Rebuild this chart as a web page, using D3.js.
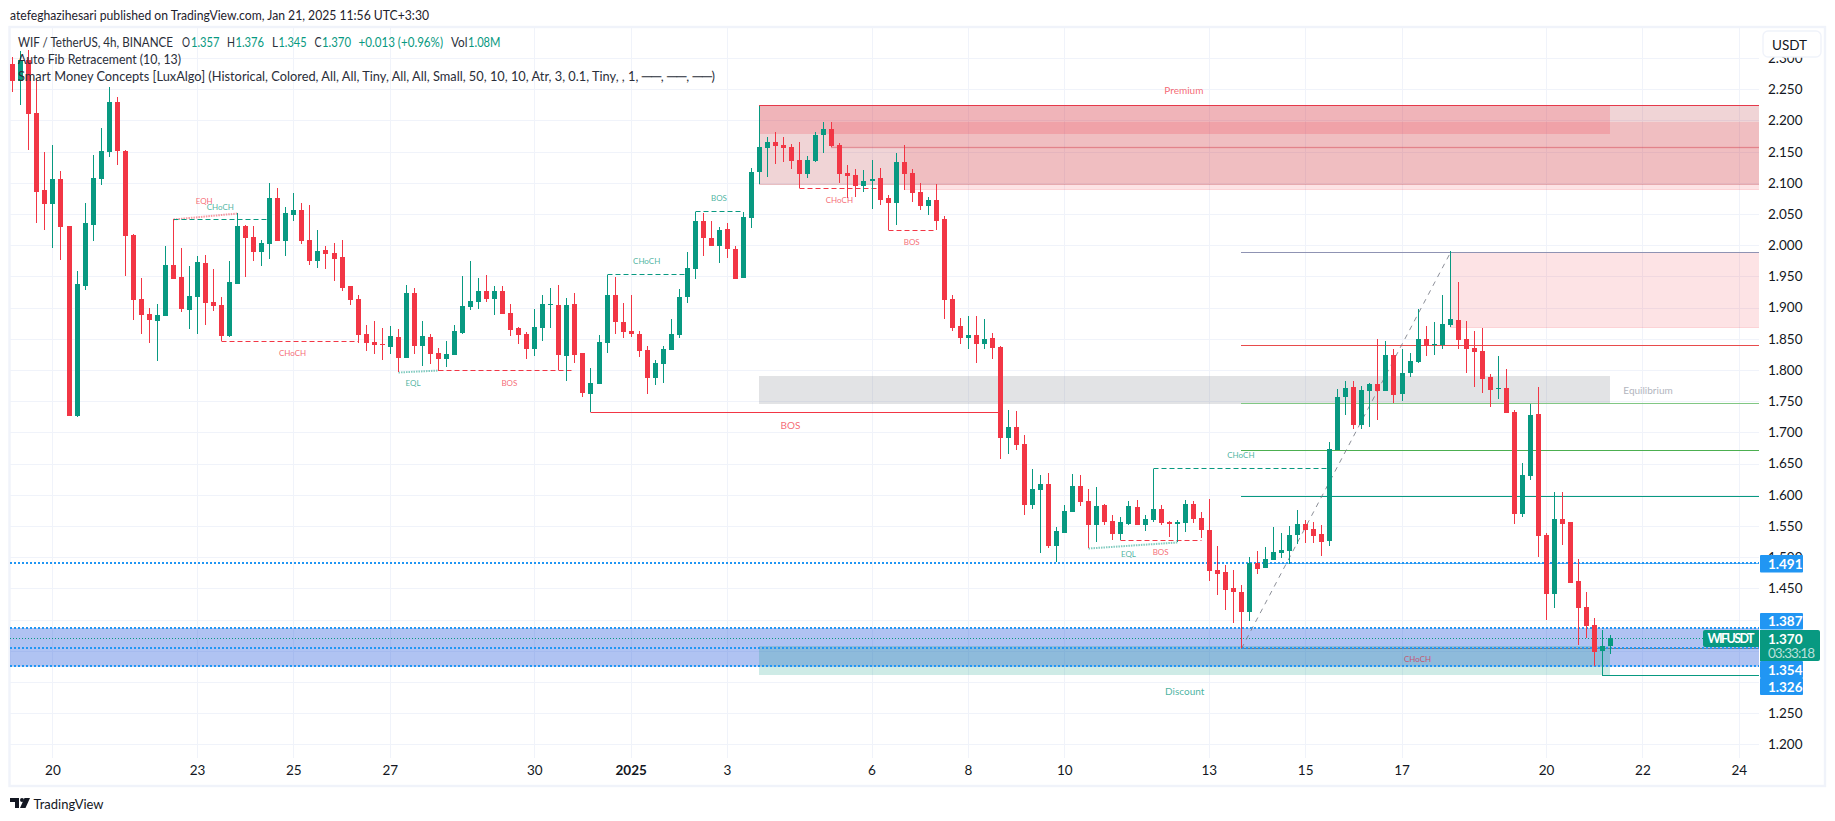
<!DOCTYPE html>
<html><head><meta charset="utf-8">
<script src="https://cdn.jsdelivr.net/npm/d3@7/dist/d3.min.js"></script>
<style>html,body{margin:0;background:#fff;overflow:hidden}svg{display:block}text{font-family:Lato,"Noto Sans",sans-serif}</style>
</head><body><div id="c"></div>
<script>
const opens=[2.291,2.264,2.297,2.212,2.089,2.066,2.106,2.031,1.726,1.935,2.033,2.106,2.150,2.230,2.151,2.016,1.914,1.890,1.879,1.887,
1.968,1.949,1.896,1.917,1.972,1.909,1.904,1.855,1.938,2.031,2.013,1.989,2.002,2.076,2.007,2.049,2.057,2.008,1.975,1.992,
1.988,1.981,1.935,1.914,1.858,1.845,1.842,1.837,1.853,1.819,1.923,1.839,1.853,1.827,1.818,1.824,1.859,1.901,1.909,1.927,
1.914,1.927,1.891,1.867,1.858,1.834,1.867,1.905,1.904,1.822,1.906,1.827,1.762,1.778,1.843,1.920,1.877,1.863,1.858,1.832,
1.787,1.810,1.832,1.856,1.917,1.962,2.039,2.012,1.999,2.026,1.994,1.948,2.044,2.118,2.156,2.166,2.161,2.158,2.137,2.114,
2.135,2.177,2.186,2.161,2.116,2.113,2.095,2.103,2.108,2.076,2.068,2.133,2.116,2.085,2.063,2.073,2.042,1.914,1.871,1.851,
1.856,1.842,1.851,1.837,1.691,1.709,1.681,1.584,1.608,1.617,1.518,1.539,1.572,1.614,1.590,1.552,1.584,1.558,1.537,1.553,
1.580,1.552,1.560,1.577,1.556,1.553,1.555,1.585,1.563,1.544,1.479,1.476,1.451,1.444,1.412,1.491,1.483,1.495,1.507,1.510,
1.536,1.553,1.545,1.537,1.526,1.672,1.757,1.773,1.712,1.766,1.778,1.766,1.824,1.762,1.795,1.813,1.850,1.840,1.840,1.872,
1.880,1.850,1.835,1.831,1.789,1.770,1.771,1.733,1.569,1.630,1.730,1.536,1.441,1.561,1.556,1.462,1.420,1.391,1.350,1.357];
const highs=[2.302,2.312,2.313,2.268,2.150,2.161,2.119,2.031,1.959,2.068,2.145,2.188,2.254,2.238,2.153,2.018,1.948,1.899,1.906,1.999,
2.042,1.996,1.967,1.983,1.984,1.962,1.917,1.975,2.051,2.033,2.031,2.008,2.100,2.092,2.061,2.084,2.068,2.065,2.025,1.999,
2.004,2.008,1.935,1.920,1.872,1.879,1.867,1.871,1.866,1.936,1.932,1.879,1.858,1.835,1.847,1.872,1.951,1.975,1.948,1.952,
1.935,1.935,1.906,1.869,1.861,1.898,1.920,1.932,1.936,1.915,1.923,1.827,1.803,1.856,1.953,1.949,1.907,1.920,1.863,1.839,
1.816,1.839,1.882,1.930,1.989,2.054,2.052,2.039,2.029,2.036,1.999,2.054,2.124,2.224,2.174,2.182,2.174,2.162,2.166,2.143,
2.182,2.198,2.198,2.164,2.129,2.122,2.121,2.137,2.124,2.081,2.148,2.161,2.122,2.100,2.077,2.098,2.047,1.920,1.883,1.887,
1.887,1.882,1.859,1.839,1.736,1.734,1.696,1.641,1.632,1.635,1.548,1.584,1.633,1.632,1.609,1.612,1.585,1.568,1.564,1.590,
1.592,1.568,1.642,1.584,1.558,1.560,1.592,1.590,1.572,1.593,1.518,1.487,1.479,1.455,1.500,1.510,1.516,1.548,1.539,1.550,
1.576,1.560,1.556,1.552,1.685,1.770,1.782,1.782,1.774,1.779,1.850,1.847,1.834,1.834,1.827,1.898,1.871,1.877,1.920,1.990,
1.941,1.879,1.863,1.867,1.794,1.822,1.802,1.736,1.651,1.746,1.773,1.539,1.604,1.604,1.556,1.497,1.444,1.403,1.383,1.376];
const lows=[2.246,2.225,2.153,2.036,2.025,1.996,1.976,1.726,1.725,1.928,2.007,2.097,2.142,2.129,1.951,1.880,1.858,1.843,1.814,1.887,
1.946,1.893,1.866,1.858,1.872,1.895,1.846,1.853,1.938,1.949,1.975,1.967,1.978,2.007,1.983,2.039,2.002,1.968,1.964,1.962,
1.943,1.926,1.904,1.843,1.831,1.826,1.816,1.826,1.797,1.819,1.826,1.807,1.810,1.799,1.805,1.824,1.858,1.896,1.898,1.909,
1.888,1.890,1.855,1.842,1.818,1.822,1.847,1.867,1.800,1.782,1.811,1.757,1.733,1.778,1.827,1.858,1.851,1.853,1.821,1.762,
1.776,1.779,1.832,1.851,1.907,1.946,1.983,1.999,1.972,1.980,1.946,1.948,2.028,2.098,2.109,2.130,2.134,2.122,2.091,2.108,
2.134,2.148,2.158,2.100,2.076,2.077,2.085,2.058,2.065,2.024,2.033,2.089,2.069,2.057,2.049,2.024,1.882,1.863,1.842,1.834,
1.811,1.834,1.818,1.657,1.665,1.672,1.568,1.577,1.507,1.515,1.492,1.539,1.572,1.582,1.515,1.524,1.552,1.528,1.527,1.552,
1.552,1.542,1.556,1.552,1.532,1.524,1.540,1.555,1.531,1.462,1.439,1.415,1.394,1.354,1.398,1.473,1.483,1.495,1.499,1.489,
1.521,1.523,1.523,1.502,1.518,1.672,1.728,1.705,1.705,1.709,1.720,1.766,1.747,1.750,1.789,1.811,1.822,1.824,1.834,1.869,
1.834,1.795,1.773,1.763,1.741,1.754,1.731,1.553,1.564,1.624,1.500,1.399,1.419,1.520,1.459,1.359,1.370,1.326,1.311,1.345];
const closes=[2.264,2.297,2.210,2.085,2.066,2.106,2.029,1.726,1.938,2.036,2.108,2.151,2.230,2.151,2.015,1.912,1.888,1.880,1.888,1.968,
1.946,1.898,1.919,1.973,1.907,1.903,1.855,1.941,2.031,2.012,1.989,2.004,2.076,2.007,2.052,2.057,2.007,1.975,1.991,1.986,
1.978,1.932,1.912,1.856,1.843,1.840,1.840,1.855,1.819,1.923,1.839,1.855,1.826,1.818,1.826,1.863,1.903,1.911,1.927,1.914,
1.927,1.890,1.864,1.856,1.834,1.869,1.906,1.906,1.824,1.904,1.824,1.763,1.779,1.845,1.920,1.877,1.861,1.858,1.831,1.787,
1.811,1.834,1.858,1.917,1.964,2.039,2.012,1.999,2.025,1.994,1.946,2.045,2.118,2.158,2.166,2.159,2.156,2.135,2.114,2.137,
2.177,2.186,2.159,2.114,2.111,2.095,2.103,2.106,2.073,2.068,2.133,2.114,2.084,2.063,2.073,2.039,1.912,1.867,1.851,1.856,
1.842,1.850,1.835,1.691,1.709,1.680,1.584,1.609,1.617,1.518,1.542,1.574,1.614,1.588,1.552,1.582,1.556,1.537,1.556,1.582,
1.552,1.561,1.577,1.555,1.553,1.556,1.585,1.561,1.544,1.478,1.473,1.447,1.444,1.412,1.491,1.481,1.497,1.508,1.512,1.536,
1.553,1.544,1.534,1.524,1.673,1.757,1.771,1.712,1.768,1.778,1.766,1.824,1.760,1.795,1.815,1.850,1.839,1.842,1.874,1.882,
1.848,1.834,1.829,1.786,1.768,1.771,1.731,1.569,1.632,1.728,1.534,1.441,1.561,1.553,1.459,1.419,1.390,1.348,1.358,1.370];

const priceTicks=[2.30,2.25,2.20,2.15,2.10,2.05,2.00,1.95,1.90,1.85,1.80,1.75,1.70,1.65,1.60,1.55,1.50,1.45,1.40,1.35,1.30,1.25,1.20];
const hiddenPriceLabels=[1.40,1.35,1.30];
const timeTickBars=[5,23,35,47,65,77,89,107,119,131,149,161,173,191,203,215];
const timeTickLabels=["20","23","25","27","30","2025","3","6","8","10","13","15","17","20","22","24"];

// zones: start bar, end bar (null = right edge), top price, bottom price
const zoneRows=[
 {b0:null,b1:null,top:1.3870,bot:1.3260,fill:"#2458db",op:.36,stroke:"#2458db"},
 {b0:93,b1:null,top:2.2243,bot:2.0987,fill:"#b22833",op:.2,stroke:null},
 {b0:93,b1:199,top:2.2243,bot:2.1783,fill:"#f23645",op:.2,stroke:null},
 {b0:102,b1:null,top:2.1971,bot:2.1580,fill:"#f23645",op:.14,stroke:"#b22833"},
 {b0:111,b1:null,top:2.1580,bot:2.0897,fill:"#f23645",op:.14,stroke:"#f23645"},
 {b0:93,b1:199,top:1.7904,bot:1.7455,fill:"#787b86",op:.21,stroke:null},
 {b0:179,b1:null,top:1.9897,bot:1.8694,fill:"#f23645",op:.14,stroke:"#f23645"},
 {b0:93,b1:199,top:1.3576,bot:1.3111,fill:"#089981",op:.2,stroke:null}
];
// solid levels
const levelRows=[
 {b0:93,price:2.2243,color:"#e5394a",w:1.2},
 {b0:153,price:1.9897,color:"#8f93b3",w:1},
 {b0:153,price:1.8396,color:"#e84b4b",w:1},
 {b0:153,price:1.7466,color:"#81c784",w:1},
 {b0:153,price:1.6713,color:"#4caf50",w:1},
 {b0:153,price:1.5975,color:"#089981",w:1},
 {b0:153,price:1.3544,color:"#787b86",w:1},
 {b0:198,price:1.3105,color:"#089981",w:1},
 {b0:156,price:1.4905,color:"#64b5f6",w:1}
];
const blueDotted=[1.491,1.387,1.354,1.326];
const lastPrice=1.370;
const structRows=[
 {b0:20,p0:2.042,b1:28,p1:2.051,kind:"dot",color:"#f23645"},
 {b0:20,p0:2.0416,b1:32,p1:2.0416,kind:"dash",color:"#089981"},
 {b0:26,p0:1.846,b1:43,p1:1.846,kind:"dash",color:"#f23645"},
 {b0:48,p0:1.797,b1:53,p1:1.7995,kind:"dot",color:"#089981"},
 {b0:53,p0:1.7995,b1:70,p1:1.7995,kind:"dash",color:"#f23645"},
 {b0:72,p0:1.7333,b1:123,p1:1.7333,kind:"solid",color:"#f23645"},
 {b0:74,p0:1.9534,b1:84,p1:1.9534,kind:"dash",color:"#089981"},
 {b0:85,p0:2.0544,b1:91,p1:2.0544,kind:"dash",color:"#089981"},
 {b0:98,p0:2.0913,b1:108,p1:2.0913,kind:"dash",color:"#f23645"},
 {b0:109,p0:2.024,b1:115,p1:2.024,kind:"dash",color:"#f23645"},
 {b0:142,p0:1.6424,b1:164,p1:1.6424,kind:"dash",color:"#089981"},
 {b0:134,p0:1.5142,b1:145,p1:1.5238,kind:"dot",color:"#089981"},
 {b0:138,p0:1.527,b1:148,p1:1.527,kind:"dash",color:"#f23645"},
 {b0:153,p0:1.3544,b1:179,p1:1.9897,kind:"fib",color:"#787b86"}
];
const labelRows=[
 {t:"EQH",b:23.9,p:2.0714,c:"#f23645",s:8},{t:"CHoCH",b:25.9,p:2.0618,c:"#089981",s:8},
 {t:"CHoCH",b:34.9,p:1.8268,c:"#f23645",s:8},{t:"EQL",b:49.9,p:1.7797,c:"#089981",s:8},
 {t:"BOS",b:61.9,p:1.7797,c:"#f23645",s:8},{t:"BOS",b:96.9,p:1.7114,c:"#f23645",s:10},
 {t:"CHoCH",b:79,p:1.9743,c:"#089981",s:8},{t:"BOS",b:88,p:2.0753,c:"#089981",s:8},
 {t:"CHoCH",b:103,p:2.0721,c:"#f23645",s:8},{t:"BOS",b:112,p:2.0047,c:"#f23645",s:8},
 {t:"CHoCH",b:153,p:1.6633,c:"#089981",s:8},{t:"EQL",b:139,p:1.5046,c:"#089981",s:8},
 {t:"BOS",b:143,p:1.5078,c:"#f23645",s:8},{t:"CHoCH",b:175,p:1.3366,c:"#d6304a",s:8},
 {t:"Premium",b:145.9,p:2.2489,c:"#f23645",s:10},{t:"Discount",b:146,p:1.2862,c:"#089981",s:10},
 {t:"Equilibrium",b:203.7,p:1.7684,c:"#b2b5be",s:10}
];

const W=1835,H=821,GREEN="#089981",RED="#f23645",BLUE="#2196f3",GRID="#f0f3fa",INK="#131722",FONT='Lato,"Noto Sans",sans-serif';
const L=10,R=1759,T=28,B=758;
const svg=d3.select("#c").append("svg").attr("width",W).attr("height",H);
const x=d3.scaleLinear().domain([0,199]).range([12.3,1610.3]);
const y=d3.scaleLinear().domain([2.25,1.2]).range([89.3,744.3]);
const X=i=>i==null?R:Math.round(x(i));
const Y=p=>Math.round(y(p));

svg.append("rect").attr("x",9.5).attr("y",27).attr("width",1815.5).attr("height",759).attr("fill","#fff").attr("stroke",GRID).attr("stroke-width",2.4);
svg.append("defs").append("clipPath").attr("id","plot").append("rect").attr("x",L).attr("y",T).attr("width",R-L).attr("height",B-T);
const plot=svg.append("g").attr("clip-path","url(#plot)");

// grid via axes
const gy=plot.append("g").attr("transform",`translate(${L},0)`).call(d3.axisRight(y).tickValues(priceTicks).tickSize(R-L).tickFormat(""));
const gx=plot.append("g").attr("transform",`translate(0,${B})`).call(d3.axisTop(x).tickValues(timeTickBars).tickSize(B-T).tickFormat(""));
[gy,gx].forEach(g=>{g.select(".domain").remove();g.selectAll(".tick line").attr("stroke",GRID).attr("stroke-width",1).attr("shape-rendering","crispEdges");});

// zones
plot.append("g").selectAll("rect").data(zoneRows).join("rect")
 .attr("x",d=>d.b0==null?L:X(d.b0)).attr("width",d=>X(d.b1)-(d.b0==null?L:X(d.b0)))
 .attr("y",d=>Y(d.top)).attr("height",d=>Y(d.bot)-Y(d.top))
 .attr("fill",d=>d.fill).attr("fill-opacity",d=>d.op).attr("shape-rendering","crispEdges");
plot.append("g").selectAll("line").data(zoneRows.filter(d=>d.stroke)).join("line")
 .attr("x1",d=>d.b0==null?L:X(d.b0)).attr("x2",d=>X(d.b1)).attr("y1",d=>Y(d.bot)+.5).attr("y2",d=>Y(d.bot)+.5)
 .attr("stroke",d=>d.stroke).attr("stroke-opacity",.22).attr("shape-rendering","crispEdges");
plot.append("line").attr("x1",X(93)).attr("x2",R).attr("y1",Y(2.0987)+.5).attr("y2",Y(2.0987)+.5).attr("stroke","#b22833").attr("stroke-opacity",.3).attr("shape-rendering","crispEdges");
plot.append("line").attr("x1",X(102)).attr("x2",R).attr("y1",Y(2.158)+.5).attr("y2",Y(2.158)+.5).attr("stroke","#e5394a").attr("stroke-opacity",.25).attr("stroke-width",1.5);

// levels
plot.append("g").selectAll("line").data(levelRows).join("line")
 .attr("x1",d=>X(d.b0)).attr("x2",R).attr("y1",d=>Y(d.price)+.5).attr("y2",d=>Y(d.price)+.5)
 .attr("stroke",d=>d.color).attr("stroke-width",d=>d.w).attr("shape-rendering","crispEdges");
// blue dotted levels
plot.append("g").selectAll("line").data(blueDotted).join("line")
 .attr("x1",L).attr("x2",R).attr("y1",d=>Y(d)).attr("y2",d=>Y(d))
 .attr("stroke",BLUE).attr("stroke-width",2).attr("stroke-dasharray","2 2");
plot.append("line").attr("x1",L).attr("x2",1703).attr("y1",Y(lastPrice)+.5).attr("y2",Y(lastPrice)+.5)
 .attr("stroke",GREEN).attr("stroke-dasharray","1 2").attr("shape-rendering","crispEdges");

// structure lines
plot.append("g").selectAll("line").data(structRows).join("line")
 .attr("x1",d=>X(d.b0)+.5).attr("x2",d=>X(d.b1)+.5).attr("y1",d=>Y(d.p0)+.5).attr("y2",d=>Y(d.p1)+.5)
 .attr("stroke",d=>d.color)
 .attr("stroke-width",d=>d.kind==="dot"?2:1)
 .attr("stroke-opacity",d=>d.kind==="dot"?.5:(d.kind==="fib"?.85:1))
 .attr("stroke-dasharray",d=>({dot:"1.5 1",dash:"5 3",fib:"5 5",solid:null}[d.kind]));

// candles
const candles=d3.range(opens.length);
const cg=plot.append("g").attr("shape-rendering","crispEdges");
const col=i=>closes[i]>=opens[i]?GREEN:RED;
cg.selectAll("line").data(candles).join("line")
 .attr("x1",i=>X(i)+.5).attr("x2",i=>X(i)+.5).attr("y1",i=>y(highs[i])).attr("y2",i=>y(lows[i])).attr("stroke",col);
cg.selectAll("rect").data(candles).join("rect")
 .attr("x",i=>X(i)-2).attr("width",5)
 .attr("y",i=>y(Math.max(opens[i],closes[i])))
 .attr("height",i=>Math.max(1,Math.abs(y(opens[i])-y(closes[i])))).attr("fill",col);

// structure labels
plot.append("g").selectAll("text").data(labelRows).join("text")
 .attr("x",d=>x(d.b)).attr("y",d=>y(d.p)).attr("text-anchor","middle").attr("dominant-baseline","central")
 .attr("fill",d=>d.c).attr("fill-opacity",d=>d.t==="Equilibrium"?1:.75).attr("font-size",d=>d.s).text(d=>d.t);

// price axis
const ay=svg.append("g").attr("transform",`translate(${R+9},0)`).call(d3.axisRight(y).tickValues(priceTicks).tickSize(0).tickPadding(0).tickFormat(d=>hiddenPriceLabels.includes(d)?"":d3.format(".3f")(d)));
ay.select(".domain").remove();
ay.selectAll("text").attr("font-size",13.5).attr("fill",INK).style("font-family",FONT);

// time axis
const ax=svg.append("g").attr("transform",`translate(0,${B})`).call(d3.axisBottom(x).tickValues(timeTickBars).tickSize(0).tickPadding(7).tickFormat((d,i)=>timeTickLabels[i]));
ax.select(".domain").remove();
ax.selectAll("text").attr("font-size",13.5).attr("fill",INK).style("font-family",FONT)
 .attr("font-weight",(d,i)=>timeTickLabels[i]==="2025"?700:400);

// price tags
const tags=[{v:"1.491",y0:555,y1:572.5},{v:"1.387",y0:613,y1:629.5},{v:"1.354",y0:661,y1:678},{v:"1.326",y0:678,y1:695}];
const tg=svg.append("g");
tags.forEach(t=>{
 tg.append("rect").attr("x",1760).attr("y",t.y0).attr("width",43).attr("height",t.y1-t.y0).attr("fill",BLUE).attr("rx",1);
 tg.append("text").attr("x",1768).attr("y",(t.y0+t.y1)/2).attr("dominant-baseline","central").attr("fill","#fff").attr("font-size",13.5).attr("font-weight",700).text(t.v);
});
tg.append("path").attr("d","M1760 630H1818a2 2 0 0 1 2 2V659a2 2 0 0 1 -2 2H1760Z").attr("fill",GREEN);
tg.append("text").attr("x",1768).attr("y",638.5).attr("dominant-baseline","central").attr("fill","#fff").attr("font-size",13.5).attr("font-weight",700).text("1.370");
tg.append("text").attr("x",1768).attr("y",652.5).attr("dominant-baseline","central").attr("fill","#fff").attr("fill-opacity",.72).attr("font-size",13.5).attr("textLength",47).text("03:33:18");
tg.append("path").attr("d","M1759 630H1705a2 2 0 0 0 -2 2V645a2 2 0 0 0 2 2H1759Z").attr("fill",GREEN);
tg.append("text").attr("x",1707.5).attr("y",638.5).attr("dominant-baseline","central").attr("fill","#fff").attr("font-size",12.5).attr("font-weight",700).attr("textLength",47).text("WIFUSDT");

// USDT button
svg.append("rect").attr("x",1763).attr("y",31).attr("width",58).attr("height",26).attr("rx",5).attr("fill","#fff").attr("stroke",GRID).attr("stroke-width",1.4);
svg.append("text").attr("x",1772).attr("y",44.5).attr("dominant-baseline","central").attr("font-size",13.5).attr("fill",INK).text("USDT");

// header
function hdr(s,xp,yp,w,c){const t=svg.append("text").attr("x",xp).attr("y",yp).attr("dominant-baseline","central").attr("font-size",13.5).attr("fill",c||"#2a2e39").text(s);
 if(w)t.attr("textLength",w).attr("lengthAdjust","spacingAndGlyphs");return t;}
hdr("atefeghazihesari published on TradingView.com, Jan 21, 2025 11:56 UTC+3:30",10,15,419,"#1e222d");
hdr("WIF / TetherUS, 4h, BINANCE",18,41.5,155);
hdr("O",182,41.5,8);hdr("1.357",191,41.5,28.5,GREEN);
hdr("H",227,41.5,8);hdr("1.376",235.5,41.5,28.5,GREEN);
hdr("L",272,41.5,6);hdr("1.345",278.5,41.5,28,GREEN);
hdr("C",314.5,41.5,7);hdr("1.370",322,41.5,29,GREEN);
hdr("+0.013 (+0.96%)",358.5,41.5,84.5,GREEN);
hdr("Vol",451,41.5,16.5);hdr("1.08M",468,41.5,32.5,GREEN);
hdr("Auto Fib Retracement (10, 13)",18,59,163);
hdr("Smart Money Concepts [LuxAlgo] (Historical, Colored, All, All, Tiny, All, All, Small, 50, 10, 10, Atr, 3, 0.1, Tiny, , 1, ──, ──, ──)",18,76,697);

// footer logo
svg.append("path").attr("d","M10 798H19V808H15V802H10Z M20 808L24.5 798H30L25.5 808Z").attr("fill",INK);
svg.append("circle").attr("cx",22).attr("cy",800).attr("r",2).attr("fill",INK);
hdr("TradingView",33.5,804,70,INK);
</script></body></html>
